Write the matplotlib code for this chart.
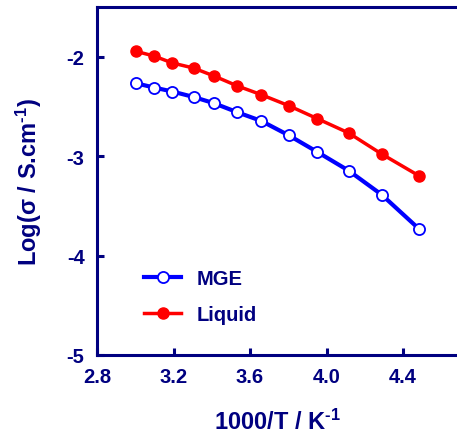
import matplotlib
matplotlib.use("Agg")
import matplotlib.pyplot as plt

x = [3.004, 3.098, 3.194, 3.305, 3.412, 3.534, 3.659, 3.802, 3.952, 4.116, 4.288, 4.482]
mge = [-2.267, -2.31, -2.35, -2.405, -2.468, -2.559, -2.646, -2.79, -2.958, -3.146, -3.387, -3.729]
liquid = [-1.946, -1.993, -2.063, -2.114, -2.194, -2.294, -2.382, -2.492, -2.623, -2.767, -2.978, -3.196]
xticks = [2.8, 3.2, 3.6, 4.0, 4.4]
yticks = [-5, -4, -3, -2]

navy = "#000080"
plt.rcParams['font.family'] = ['Liberation Sans', 'DejaVu Sans']
plt.rcParams['font.weight'] = 'bold'
plt.rcParams['mathtext.fontset'] = 'custom'
plt.rcParams['mathtext.rm'] = 'Liberation Sans:bold'
plt.rcParams['mathtext.bf'] = 'Liberation Sans:bold'
plt.rcParams['mathtext.it'] = 'Liberation Sans'

fig = plt.figure(figsize=(4.57, 4.39), dpi=100)
ax = fig.add_axes([97/457, 83/439, 360/457, 348/439])

ax.plot(x, mge, color="#0000ff", lw=3.0, marker='o', ms=8, mfc='white', mec='#0000ff', mew=1.3, label='MGE', zorder=3)
ax.plot(x, liquid, color="#ff0000", lw=2.5, marker='o', ms=8, mfc='#ff0000', mec='#ff0000', label='Liquid', zorder=3)

ax.set_xlim(2.8, 2.8 + 360/191.25)
ax.set_ylim(-5, -1.5)
ax.set_xticks(xticks)
ax.set_xticklabels([f"{v:.1f}" for v in xticks])
ax.set_yticks(yticks)
ax.set_yticklabels([str(v) for v in yticks])

for s in ['left', 'bottom', 'top']:
    ax.spines[s].set_color(navy)
    ax.spines[s].set_linewidth(2.2)
ax.spines['right'].set_visible(False)

ax.tick_params(direction='in', length=5, width=2.2, color=navy, labelcolor=navy, labelsize=14.5, pad=9)
for lab in ax.get_xticklabels() + ax.get_yticklabels():
    lab.set_fontweight('bold')

ax.set_xlabel(r'1000/T / K$^{\text{-1}}$', fontsize=17, fontweight='bold', color=navy, labelpad=16)
ax.set_ylabel(r'Log($\mathit{\sigma}$ / S.cm$^{\text{-1}}$)', fontsize=17, fontweight='bold', color=navy, labelpad=16)

leg = ax.legend(loc='upper left', bbox_to_anchor=(0.08, 0.30), frameon=False,
                handlelength=1.85, handletextpad=0.75, labelspacing=0.85, prop={'weight': 'bold', 'size': 14.5})
for t in leg.get_texts():
    t.set_color(navy)

fig.savefig("out.png", dpi=100)
